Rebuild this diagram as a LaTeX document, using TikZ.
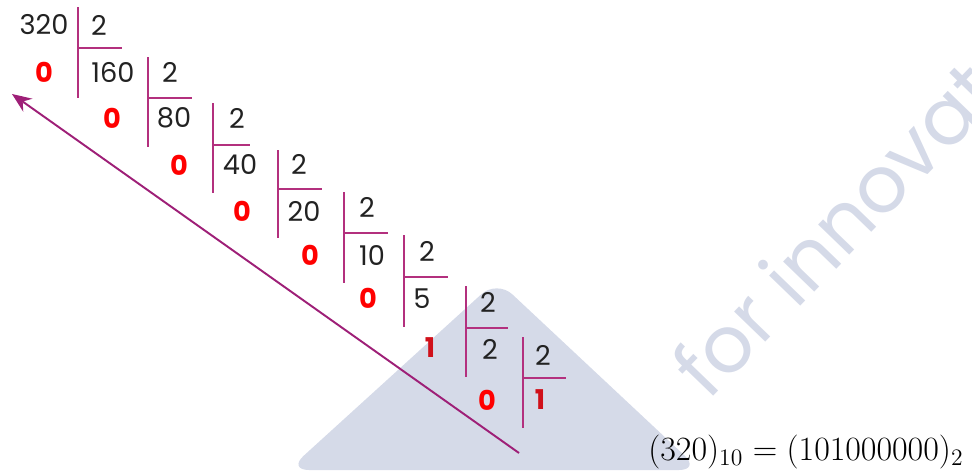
\documentclass[tikz,border=0pt]{standalone}
\usepackage{fontspec}
\setsansfont{Poppins}
\usetikzlibrary{arrows.meta, positioning}
\definecolor{DivBar}{HTML}{B3307E}
\definecolor{DivArrow}{HTML}{9E1F77}
\definecolor{RemRed}{HTML}{FF0000}
\definecolor{RemDark}{HTML}{D0101A}
\definecolor{NumInk}{HTML}{222222}
\definecolor{WaterMark}{HTML}{D5DAE8}
\tikzset{
    % Text styles
    num/.style={
        text=NumInk,
        inner sep=0pt,
        font=\sffamily\fontsize{15.5}{18}\selectfont
    },
    rem/.style={
        text=RemRed,
        inner sep=0pt,
        font=\sffamily\bfseries\fontsize{15.5}{18}\selectfont
    },
    remdark/.style={
        rem,
        text=RemDark
    },
    formula/.style={
        text=black,
        inner sep=0pt,
        scale=1.12,
        font=\fontsize{17.28}{20}\selectfont
    },
    watermark/.style={
        text=WaterMark,
        inner sep=0pt,
        font=\sffamily\fontsize{45}{50}\selectfont
    },
    % Line styles
    bar/.style={
        line width=1.1pt,
        draw=DivBar
    },
    backarrow/.style={
        -{Stealth[length=11pt, width=9pt]},
        line width=1.1pt,
        draw=DivArrow
    }
}

\begin{document}
\begin{tikzpicture}[x=0.02cm, y=-0.02cm]
    \useasboundingbox (0,0) rectangle (972,470);

    % watermark
    \begin{scope}
        \clip (0,0) rectangle (972,470);
        \fill[WaterMark, rounded corners=12pt] (288,470) -- (497,280) -- (700,470) -- cycle;
        \node[watermark, rotate=46, anchor=base west] (wm) at (708,402) {for innovat};
    \end{scope}

    % dividends
    \node[num] (n0) at (44,25) {320};
    \node[num] (n1) at (113,72) {160};
    \node[num] (n2) at (174,118) {80};
    \node[num] (n3) at (240,165) {40};
    \node[num] (n4) at (304,211) {20};
    \node[num] (n5) at (372,255) {10};
    \node[num] (n6) at (422,299) {5};
    \node[num] (n7) at (490,349) {2};
    \node[remdark] (n8) at (540,400) {1};

    % divisors
    \node[num] (d0) at (99,25) {2};
    \node[num] (d1) at (170,72) {2};
    \node[num] (d2) at (237,118) {2};
    \node[num] (d3) at (299,164) {2};
    \node[num] (d4) at (367,207) {2};
    \node[num] (d5) at (427,251) {2};
    \node[num] (d6) at (488,302) {2};
    \node[num] (d7) at (543,355) {2};

    % remainders
    \node[rem] (r0) at (44,72) {0};
    \node[rem] (r1) at (112,118) {0};
    \node[rem] (r2) at (179,165) {0};
    \node[rem] (r3) at (242,211) {0};
    \node[rem] (r4) at (310,255) {0};
    \node[rem] (r5) at (368,298) {0};
    \node[remdark] (r6) at (430,348) {1};
    \node[rem] (r7) at (487,400) {0};

    % division brackets
    \draw[bar] (78,7) -- (78,98);     \draw[bar] (78,48) -- (122,48);
    \draw[bar] (148,57) -- (148,147); \draw[bar] (148,98) -- (192,98);
    \draw[bar] (213,103) -- (213,193);\draw[bar] (213,145) -- (250,145);
    \draw[bar] (278,150) -- (278,238);\draw[bar] (278,189) -- (322,189);
    \draw[bar] (344,192) -- (344,283);\draw[bar] (344,233) -- (388,233);
    \draw[bar] (404,235) -- (404,327);\draw[bar] (404,277) -- (448,277);
    \draw[bar] (466,286) -- (466,377);\draw[bar] (466,328) -- (508,328);
    \draw[bar] (523,337) -- (523,428);\draw[bar] (523,378) -- (566,378);

    % read direction
    \coordinate (readstart) at (519,453);
    \coordinate (readend) at (12,94);
    \draw[backarrow] (readstart) -- (readend);

    % result
    \node[formula] (res) at (806,452) {$(320)_{10} = (101000000)_2$};
\end{tikzpicture}
\end{document}
